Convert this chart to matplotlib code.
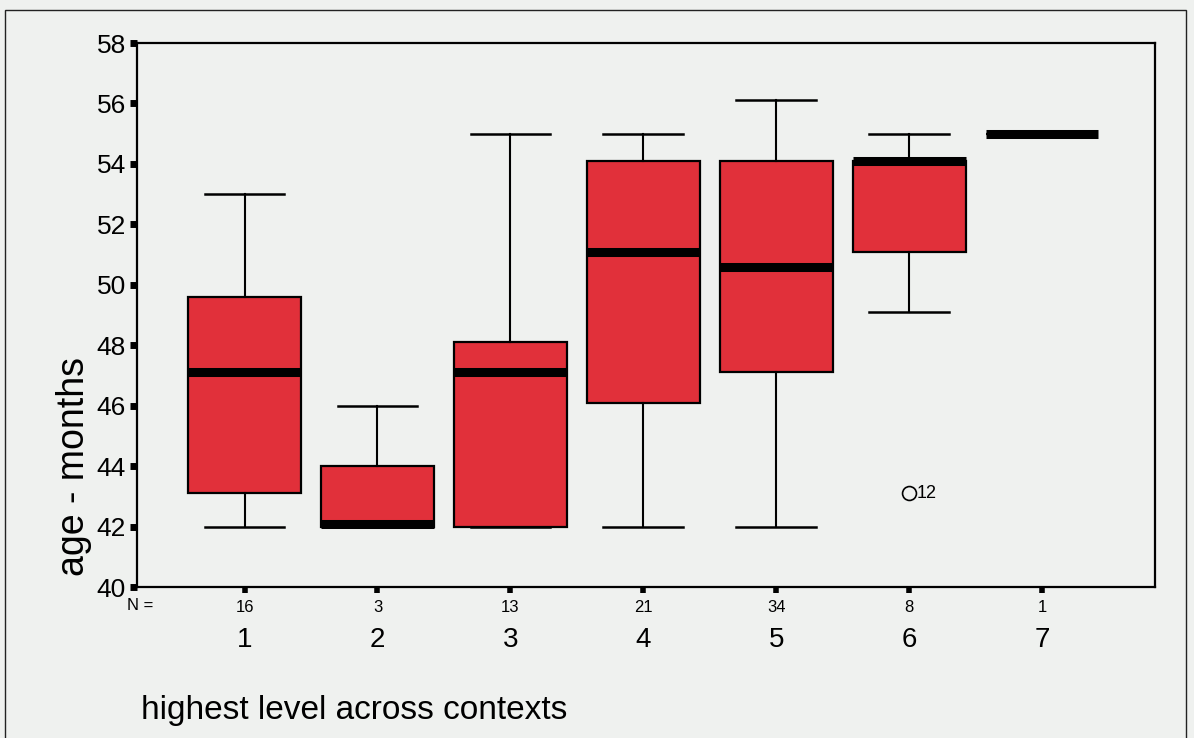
import matplotlib.pyplot as plt
from matplotlib.patches import Rectangle

# box summaries (months)
levels = [1, 2, 3, 4, 5, 6, 7]
n_cases = [16, 3, 13, 21, 34, 8, 1]
whisk_lo = [42.0, 42.0, 42.0, 42.0, 42.0, 49.1, 55.0]
q1 = [43.1, 42.0, 42.0, 46.1, 47.1, 51.1, 55.0]
median = [47.1, 42.1, 47.1, 51.1, 50.6, 54.1, 55.0]
q3 = [49.6, 44.0, 48.1, 54.1, 54.1, 54.1, 55.0]
whisk_hi = [53.0, 46.0, 55.0, 55.0, 56.1, 55.0, 55.0]
outliers = [[], [], [], [], [], [43.1], []]
outlier_ids = [[], [], [], [], [], ["12"], []]

bg = "#eff1ef"
plt.rcParams['font.family'] = ['Liberation Sans Narrow', 'Liberation Sans', 'DejaVu Sans']

fig = plt.figure(figsize=(11.94, 7.38), dpi=100, facecolor=bg)
ax = fig.add_axes([0.1147, 0.2046, 0.8526, 0.7371], facecolor=bg)

# outer frame of the scanned figure
fig.patches.append(Rectangle((0.004, -0.05), 0.989, 1.037, transform=fig.transFigure,
                             fill=False, edgecolor="#222222", linewidth=1.0))

stats = []
for i in range(len(levels)):
    stats.append(dict(med=median[i], q1=q1[i], q3=q3[i], whislo=whisk_lo[i],
                      whishi=whisk_hi[i], fliers=outliers[i]))

ax.bxp(stats, positions=levels, widths=0.85, patch_artist=True, manage_ticks=False,
       boxprops=dict(facecolor="#e1303a", edgecolor="black", linewidth=1.6),
       medianprops=dict(color="black", linewidth=6.5, solid_capstyle="butt"),
       whiskerprops=dict(color="black", linewidth=1.5),
       capprops=dict(color="black", linewidth=1.8),
       capwidths=0.6,
       flierprops=dict(marker="o", markerfacecolor="none", markeredgecolor="black",
                       markersize=10, markeredgewidth=1.2))

for x, vals, ids in zip(levels, outliers, outlier_ids):
    for v, t in zip(vals, ids):
        ax.text(x + 0.06, v, t, fontsize=13, va="center", ha="left")

ax.set_xlim(0.19, 7.85)
ax.set_ylim(40, 58)
ax.set_yticks(range(40, 59, 2))
ax.tick_params(axis="y", direction="out", length=5, width=5, labelsize=19, pad=3)
ax.set_xticks(levels)
ax.set_xticklabels([str(n) for n in n_cases])
ax.tick_params(axis="x", direction="out", length=4, width=4, labelsize=12, pad=5)
for s in ax.spines.values():
    s.set_linewidth(1.6)

tr = ax.get_xaxis_transform()
for x in levels:
    ax.text(x, -0.098, str(x), transform=tr, ha="center", va="center", fontsize=20)
ax.text(0.117, 1 - 606 / 738, "N =", transform=fig.transFigure, ha="center",
        va="center", fontsize=12)

fig.text(0.062, 1 - 467 / 738, "age - months", rotation=90, ha="center",
         va="center", fontsize=27)
fig.text(0.118, 1 - 710 / 738, "highest level across contexts", ha="left",
         va="center", fontsize=24)

fig.savefig("out.png", dpi=100, facecolor=bg)
